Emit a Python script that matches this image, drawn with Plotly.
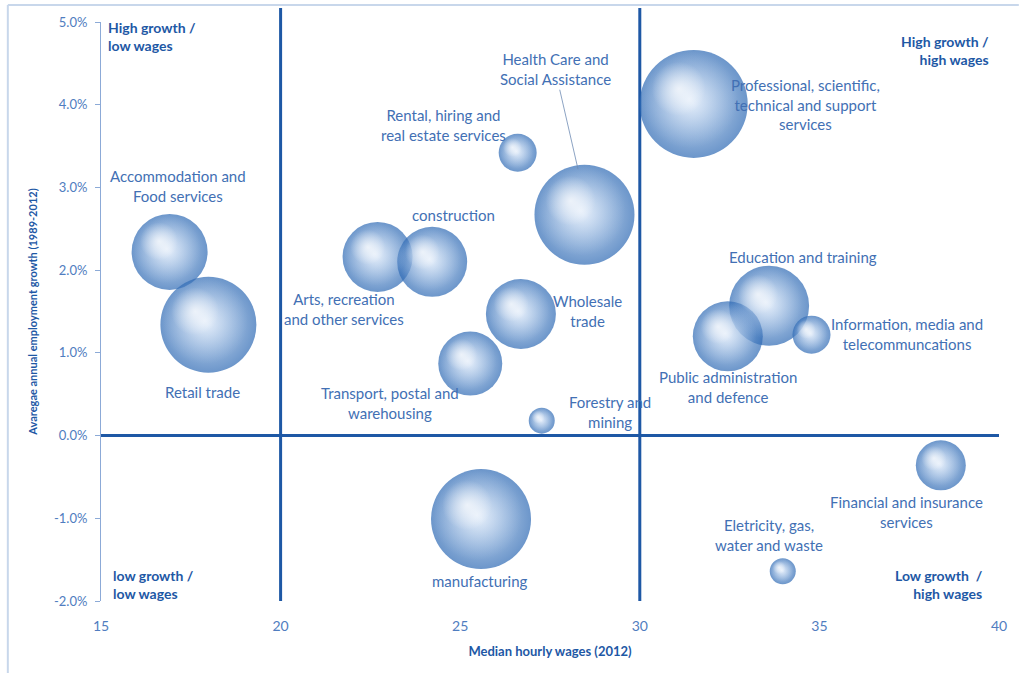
import plotly.graph_objects as go

# ---- data ----
industries = [
    "Accommodation and Food services", "Retail trade", "Arts, recreation and other services",
    "Construction", "Rental, hiring and real estate services", "Health Care and Social Assistance",
    "Professional, scientific, technical and support services", "Wholesale trade",
    "Transport, postal and warehousing", "Forestry and mining", "Manufacturing",
    "Education and training", "Public administration and defence",
    "Information, media and telecommunications", "Financial and insurance services",
    "Electricity, gas, water and waste",
]
median_wage = [16.91, 17.99, 22.70, 24.22, 26.60, 28.46, 31.50, 26.69,
               25.28, 27.27, 25.58, 33.60, 32.45, 34.78, 38.38, 33.98]
emp_growth = [2.22, 1.34, 2.16, 2.10, 3.42, 2.67, 4.01, 1.47,
              0.87, 0.18, -1.01, 1.57, 1.20, 1.22, -0.36, -1.64]
bubble_size = [76, 96, 70, 70, 38, 100, 108, 70,
               64, 26, 100, 80, 70, 38, 50, 26]

label_text = [
    "Accommodation and<br>Food services", "Retail trade", "Arts, recreation<br>and other services",
    "construction", "Rental, hiring and<br>real estate services", "Health Care and<br>Social Assistance",
    "Professional, scientific,<br>technical and support<br>services", "Wholesale<br>trade",
    "Transport, postal and<br>warehousing", "Forestry and<br>mining", "manufacturing",
    "Education and training", "Public administration<br>and defence",
    "Information, media and<br>telecommuncations", "Financial and insurance<br>services",
    "Eletricity, gas,<br>water and waste",
]
label_x = [17.13, 17.83, 21.76, 24.81, 24.53, 28.14, 34.60, 28.55,
           23.04, 29.16, 25.56, 34.54, 32.46, 37.45, 37.42, 33.60]
label_y = [3.02, 0.53, 1.53, 2.67, 3.76, 4.50, 4.00, 1.51,
           0.39, 0.28, -1.76, 2.16, 0.59, 1.23, -0.92, -1.20]

quad_text = ["High growth /<br>low wages", "High growth /<br>high wages",
             "low growth /<br>low wages", "Low growth  /<br>high wages"]
quad_x = [15.15, 39.78, 15.28, 39.62]
quad_y = [4.82, 4.65, -1.80, -1.80]
quad_align = ["left", "right", "left", "right"]

x_ticks = [15, 20, 25, 30, 35, 40]
y_ticks = [-2, -1, 0, 1, 2, 3, 4, 5]
y_tick_labels = ["-2.0%", "-1.0%", "0.0%", "1.0%", "2.0%", "3.0%", "4.0%", "5.0%"]
divider_x = [20, 30]
divider_y = [0]

FONT = "Lato"
DARK = "rgb(30,88,165)"
MID = "rgb(66,112,180)"
TICK = "rgb(80,125,192)"
LIGHT = "rgb(140,170,215)"

W, H = 1019, 673
M = dict(l=101, r=12, t=22, b=72)
plot_w = W - M["l"] - M["r"]
plot_h = H - M["t"] - M["b"]
px_per_x = plot_w / (x_ticks[-1] - x_ticks[0])
px_per_y = plot_h / (y_ticks[-1] - y_ticks[0])


def offset(frac):
    xs = [x - frac * (s / 2) / px_per_x for x, s in zip(median_wage, bubble_size)]
    ys = [y + frac * (s / 2) / px_per_y for y, s in zip(emp_growth, bubble_size)]
    return xs, ys


fig = go.Figure()
# base spheres
fig.add_trace(go.Scatter(
    x=median_wage, y=emp_growth, mode="markers", text=industries,
    marker=dict(size=bubble_size, sizemode="diameter",
                color="rgb(45,105,180)",
                gradient=dict(type="radial", color="rgb(175,202,234)"),
                line=dict(width=0)),
    hovertemplate="%{text}<br>%{x}<br>%{y}%<extra></extra>",
    showlegend=False,
))
# soft inner body
bx, by = offset(0.08)
fig.add_trace(go.Scatter(
    x=bx, y=by, mode="markers", hoverinfo="skip",
    marker=dict(size=[0.9 * s for s in bubble_size], sizemode="diameter",
                color="rgba(185,208,238,0)",
                gradient=dict(type="radial", color="rgba(245,249,255,1)"),
                line=dict(width=0)),
    showlegend=False,
))
# specular highlight
hx, hy = offset(0.28)
fig.add_trace(go.Scatter(
    x=hx, y=hy, mode="markers", hoverinfo="skip",
    marker=dict(size=[0.5 * s for s in bubble_size], sizemode="diameter",
                color="rgba(255,255,255,0)",
                gradient=dict(type="radial", color="rgba(255,255,255,1)"),
                line=dict(width=0)),
    showlegend=False,
))

annotations = []
for t, x, y in zip(label_text, label_x, label_y):
    if t.startswith("Health"):
        continue
    annotations.append(dict(x=x, y=y, text=t, showarrow=False,
                            font=dict(family=FONT, size=15, color=MID)))
hi = label_text.index("Health Care and<br>Social Assistance")
annotations.append(dict(x=median_wage[hi] - 0.18, y=emp_growth[hi] + 0.55,
                        text=label_text[hi], showarrow=True, arrowhead=0,
                        arrowwidth=0.8, arrowcolor="rgb(110,140,180)",
                        ax=-23, ay=-100,
                        font=dict(family=FONT, size=15, color=MID)))
for t, x, y, a in zip(quad_text, quad_x, quad_y, quad_align):
    annotations.append(dict(x=x, y=y, text="<b>" + t + "</b>", showarrow=False,
                            xanchor=a, align=a,
                            font=dict(family=FONT, size=14, color=DARK)))

top_edge = 1 + 14 / plot_h
shapes = []
for xv in divider_x:
    shapes.append(dict(type="line", xref="x", yref="paper", x0=xv, x1=xv,
                       y0=0, y1=top_edge,
                       line=dict(color=DARK, width=3), layer="below"))
for yv in divider_y:
    shapes.append(dict(type="line", xref="x", yref="y", x0=x_ticks[0], x1=x_ticks[-1],
                       y0=yv, y1=yv, line=dict(color=DARK, width=3), layer="below"))
# chart frame (top and left edges visible)
frame_top = 1 + 17 / plot_h
frame_left = -94 / plot_w
shapes.append(dict(type="line", xref="paper", yref="paper",
                   x0=frame_left, x1=1 + 20 / plot_w, y0=frame_top, y1=frame_top,
                   line=dict(color="rgb(200,215,235)", width=2)))
shapes.append(dict(type="line", xref="paper", yref="paper",
                   x0=frame_left, x1=frame_left, y0=-80 / plot_h, y1=frame_top,
                   line=dict(color="rgb(200,215,235)", width=2)))

fig.update_layout(
    width=W, height=H, margin=M,
    paper_bgcolor="white", plot_bgcolor="white",
    font=dict(family=FONT, color=MID),
    annotations=annotations, shapes=shapes,
    xaxis=dict(range=[x_ticks[0], x_ticks[-1]], tickvals=x_ticks,
               showgrid=False, zeroline=False, showline=False,
               ticks="outside", ticklen=12, tickcolor="rgba(0,0,0,0)",
               tickfont=dict(family=FONT, size=14, color=TICK),
               title=dict(text="<b>Median hourly wages (2012)</b>",
                          font=dict(family=FONT, size=13, color=DARK), standoff=14)),
    yaxis=dict(range=[y_ticks[0], y_ticks[-1]], tickvals=y_ticks, ticktext=y_tick_labels,
               showgrid=False, zeroline=False, showline=True,
               linecolor=LIGHT, linewidth=1,
               ticks="outside", ticklen=5, tickcolor=LIGHT, ticklabelstandoff=5,
               tickfont=dict(family=FONT, size=13, color=TICK),
               title=dict(text="<b>Avaregae annual employment growth (1989-2012)</b>",
                          font=dict(family=FONT, size=11, color=DARK), standoff=14)),
)

fig.write_html("out.html", config={"displayModeBar": False},
               post_script="document.body.style.margin='0';")
